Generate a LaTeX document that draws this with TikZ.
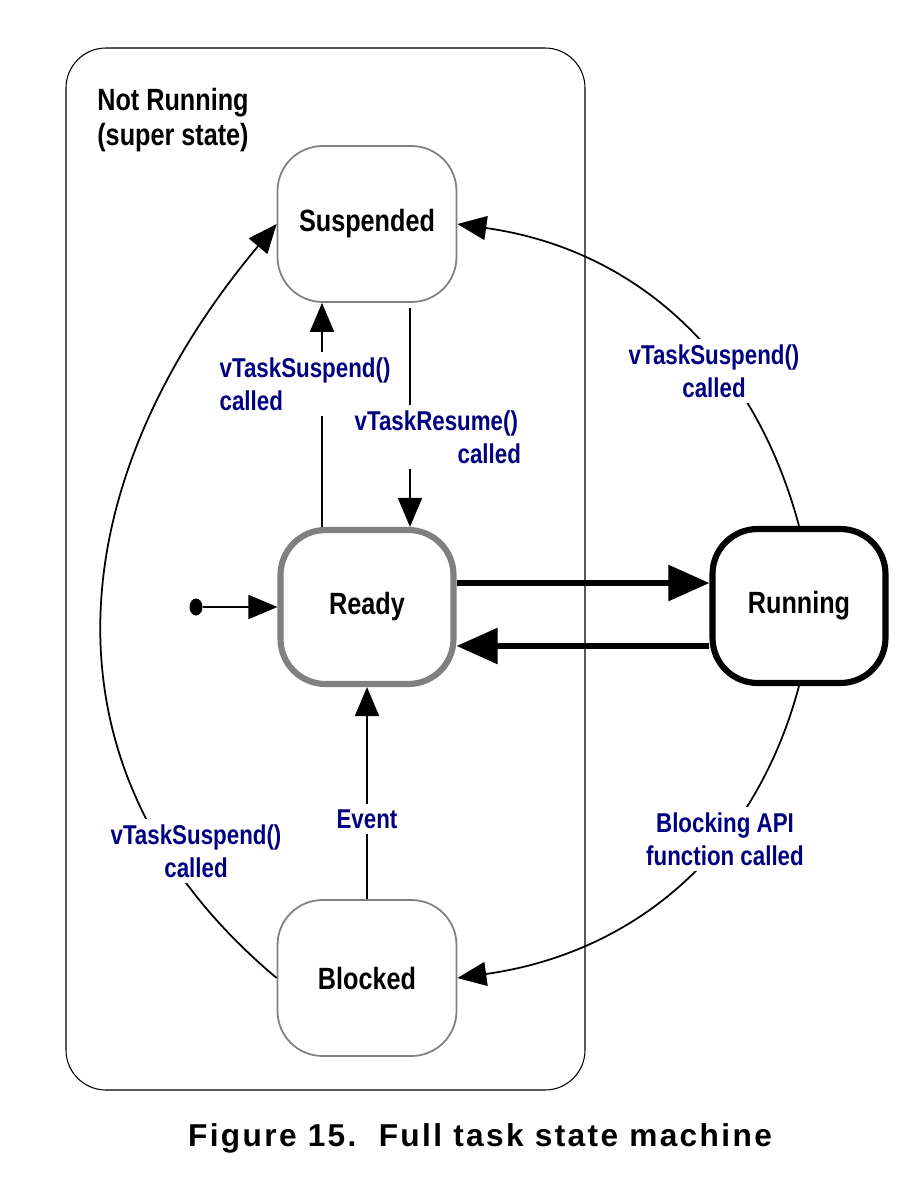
\documentclass[tikz,border=0pt]{standalone}
\usepackage{fontspec}
\usetikzlibrary{arrows.meta,shapes.geometric}
\newfontfamily\narrowsans{Liberation Sans}[FakeStretch=0.82]
\newfontfamily\figcapfont{Liberation Sans}[LetterSpace=7.5]
\definecolor{labelblue}{RGB}{0,0,128}
\definecolor{stategray}{RGB}{128,128,128}

\begin{document}
\begin{tikzpicture}[x=0.02cm,y=0.02cm]
\tikzset{etat/.style={draw=stategray, line width=1pt, rounded corners=0.9cm, minimum width=3.58cm, minimum height=3.12cm, fill=white, font=\narrowsans\bfseries\fontsize{17.5}{20}\selectfont},
  etatfort/.style={etat, line width=3.5pt, minimum width=3.46cm, minimum height=3.08cm},
  trans/.style={-{Triangle[length=0.58cm,width=0.48cm]}, line width=1pt},
  transfort/.style={-{Triangle[length=0.82cm,width=0.7cm]}, line width=3.2pt},
  etiquette/.style={text=labelblue, fill=white, inner sep=3pt, font=\narrowsans\bfseries\fontsize{15.5}{18.8}\selectfont}}
\useasboundingbox (0,0) rectangle (908,-1186);
\draw[line width=0.6pt, rounded corners=0.8cm] (66,-48) rectangle (585,-1090);
\node[anchor=west, align=left, inner sep=0, font=\narrowsans\bfseries\fontsize{17.5}{20}\selectfont] (titre) at (97,-120) {Not Running\\(super state)};
\node[etat] (suspended) at (367,-224) {Suspended};
\node[etatfort] (ready) at (367,-607) {Ready};
\node[etatfort, draw=black] (running) at (799,-606) {Running};
\node[etat] (blocked) at (367,-978) {Blocked};
\node[ellipse, fill=black, minimum width=0.26cm, minimum height=0.34cm, inner sep=0] (init) at (196,-607) {};
\draw[trans] (init) -- (ready.west);
\draw[trans] ([xshift=-0.9cm]ready.north) -- ([xshift=-0.9cm]suspended.south);
\draw[trans] ([xshift=0.86cm,yshift=-0.1cm]suspended.south) -- ([xshift=0.86cm]ready.north);
\draw[trans] (blocked) -- (ready);
\coordinate (go) at ([yshift=0.48cm]ready.east);
\coordinate (back) at ([yshift=-0.8cm]running.west);
\draw[transfort] (go) -- (go -| running.west);
\draw[transfort] (back) -- (back -| ready.east);
\draw[trans] (running.north) to[out=105, in=-8] (suspended.east);
\draw[trans] (running.south) to[out=-105, in=8] (blocked.east);
\draw[trans] (blocked.west) to[out=140, in=-130, looseness=1.12] (suspended.west);
\node[etiquette, align=left, anchor=west] (lsusp) at (214,-384) {vTaskSuspend()\\called};
\node[etiquette, align=left, anchor=west] (lresume) at (349,-437) {vTaskResume()\\\hspace*{2.06cm}called};
\node[etiquette, align=center] (rsusp) at (714,-371) {vTaskSuspend()\\called};
\node[etiquette] (levent) at (367,-819) {Event};
\node[etiquette, align=center] (lblock) at (725,-839) {Blocking API\\function called};
\node[etiquette, align=center] (lbsusp) at (196,-851) {vTaskSuspend()\\called};
\node[font=\figcapfont\bfseries\fontsize{18}{21}\selectfont] (caption) at (480,-1138) {Figure 15.~~Full task state machine};
\end{tikzpicture}
\end{document}
